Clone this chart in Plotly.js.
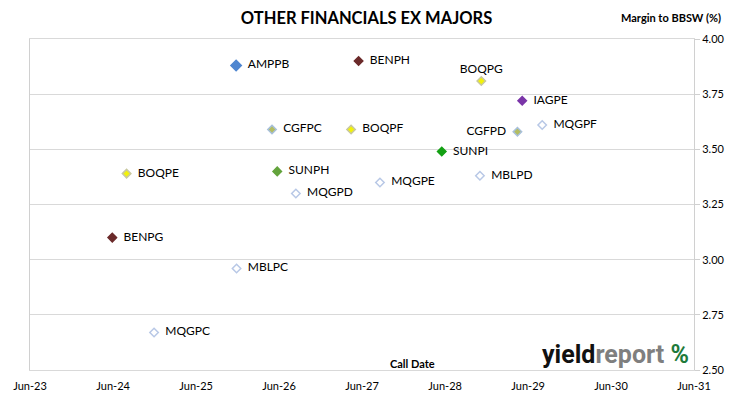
<!DOCTYPE html>
<html>
<head>
<meta charset="utf-8">
<script src="https://cdn.plot.ly/plotly-3.0.1.min.js"></script>
<style>html,body{margin:0;padding:0;background:#fff;}#chart{width:730px;height:399px;}</style>
</head>
<body>
<div id="chart"></div>
<script>
// ---- data ----
const securities = ['AMPPB','BENPH','BOQPG','IAGPE','MQGPF','CGFPD','SUNPI','MBLPD','CGFPC','BOQPF','BOQPE','SUNPH','MQGPD','MQGPE','BENPG','MBLPC','MQGPC'];
const callDates = ['2025-11-24','2027-05-17','2028-11-07','2029-05-06','2029-08-02','2029-04-15','2028-05-17','2028-11-01','2026-05-01','2027-04-14','2024-07-30','2026-05-24','2026-08-14','2027-08-19','2024-05-28','2025-11-26','2024-11-28'];
const margins = [3.88, 3.90, 3.81, 3.72, 3.61, 3.58, 3.49, 3.38, 3.59, 3.59, 3.39, 3.40, 3.30, 3.35, 3.10, 2.96, 2.67];
const xTickLabels = ['Jun-23','Jun-24','Jun-25','Jun-26','Jun-27','Jun-28','Jun-29','Jun-30','Jun-31'];
const xTickDates = ['2023-06-01','2024-06-01','2025-06-01','2026-06-01','2027-06-01','2028-06-01','2029-06-01','2030-06-01','2031-06-01'];

// ---- styles ----
const fillColors = ['#4f86d0','#6b2a2a','#f2f20a','#7a35a8','#ffffff','#b3bd62','#13a013','#ffffff','#b3bd62','#f2f20a','#f2f20a','#63a33c','#ffffff','#ffffff','#6b2a2a','#ffffff','#ffffff'];
const lineColors = ['#4f86d0','#6b2a2a','#c8c8a0','#7a35a8','#b8c8e6','#a8c0dc','#13a013','#b8c8e6','#a8c0dc','#c8c8a0','#c8c8a0','#63a33c','#b8c8e6','#b8c8e6','#6b2a2a','#b8c8e6','#b8c8e6'];
const textPos = ['middle right','middle right','top center','middle right','middle right','middle left','middle right','middle right','middle right','middle right','middle right','middle right','middle right','middle right','middle right','middle right','middle right'];
const sizes = securities.map((s,i)=> i===0 ? 8 : 6.5);

const FONT = 'Lato, "Open Sans", sans-serif';

const trace = {
  type: 'scatter',
  mode: 'markers+text',
  x: callDates,
  y: margins,
  text: securities.map((s,i) => textPos[i]==='middle right' ? '&nbsp;&nbsp;' + s : (textPos[i]==='middle left' ? s + '&nbsp;&nbsp;' : s)),
  textposition: textPos,
  textfont: {family: FONT, size: 12, color: '#000'},
  marker: {symbol: 'diamond', size: sizes, opacity: 1, color: fillColors, line: {color: lineColors, width: 1.5}},
  cliponaxis: false,
  hoverinfo: 'skip'
};

const layout = {
  width: 730, height: 399,
  margin: {l: 30, r: 36, t: 39, b: 29},
  paper_bgcolor: '#fff', plot_bgcolor: '#fff',
  showlegend: false,
  font: {family: FONT, color: '#000'},
  xaxis: {
    type: 'date',
    range: ['2023-06-01','2031-06-01'],
    tickmode: 'array', tickvals: xTickDates, ticktext: xTickLabels,
    showgrid: false, zeroline: false,
    showline: true, linecolor: '#d9d9d9', linewidth: 1, mirror: true,
    ticks: '', ticklabelstandoff: 6,
    tickfont: {family: FONT, size: 11, color: '#000'}
  },
  yaxis: {
    side: 'right',
    range: [2.5, 4.0],
    tickvals: [2.5, 2.75, 3.0, 3.25, 3.5, 3.75, 4.0],
    tickformat: '.2f',
    showgrid: true, gridcolor: '#d9d9d9', gridwidth: 1,
    zeroline: false,
    showline: true, linecolor: '#d0d0d0', linewidth: 1, mirror: true,
    ticks: 'outside', ticklen: 5, tickcolor: '#d0d0d0',
    tickfont: {family: FONT, size: 11, color: '#000'}
  },
  title: {
    text: '<b>OTHER FINANCIALS EX MAJORS</b>',
    font: {family: FONT, size: 16.5, color: '#000'},
    x: 370/730, xanchor: 'center', y: 1 - 18/399, yanchor: 'middle', xref: 'paper'
  },
  annotations: [
    {text: '<b>Margin to BBSW (%)</b>', xref: 'paper', yref: 'paper', x: 1 + 29/664, y: 1 + 21/331, xanchor: 'right', yanchor: 'middle', showarrow: false, font: {family: FONT, size: 11, color: '#000'}},
    {text: '<b>Call Date</b>', xref: 'paper', yref: 'paper', x: (412-30)/664, y: 7/331, xanchor: 'center', yanchor: 'middle', showarrow: false, font: {family: FONT, size: 11, color: '#000'}},
    {text: '<b>yield</b><b><span style="color:#7f7f7f">report</span></b> <b><span style="color:#1e7a3a">%</span></b>', xref: 'paper', yref: 'paper', x: (691-30)/664, y: 16/331, xanchor: 'right', yanchor: 'middle', showarrow: false, font: {family: 'Roboto, "Open Sans", sans-serif', size: 25, color: '#111'}}
  ]
};

Plotly.newPlot('chart', [trace], layout, {displayModeBar: false, staticPlot: true});
</script>
</body>
</html>
